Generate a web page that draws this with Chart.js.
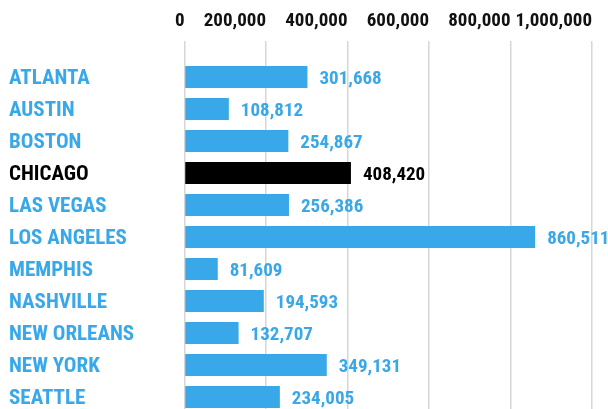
<!DOCTYPE html>
<html>
<head>
<meta charset="utf-8">
<script src="https://cdn.jsdelivr.net/npm/chart.js@4"></script>
<style>
  html, body { margin: 0; padding: 0; background: #fff; overflow: hidden; }
  canvas { display: block; }
</style>
</head>
<body>
<canvas id="myChart" width="608" height="413"></canvas>
<script>
const cidades = ['ATLANTA', 'AUSTIN', 'BOSTON', 'CHICAGO', 'LAS VEGAS', 'LOS ANGELES',
  'MEMPHIS', 'NASHVILLE', 'NEW ORLEANS', 'NEW YORK', 'SEATTLE'];
const valores = [301668, 108812, 254867, 408420, 256386, 860511,
  81609, 194593, 132707, 349131, 234005];
const destaque = 'CHICAGO';
const ticksX = [0, 200000, 400000, 600000, 800000, 1000000];

const AZUL = '#38a8e8';
const PRETO = '#000000';
const FONTE = "'Roboto Condensed', sans-serif";

const corDe = nome => (nome === destaque ? PRETO : AZUL);
const fmt = v => Number(v).toLocaleString('en-US');

// rótulos de valor ao lado de cada barra
const rotulosValor = {
  id: 'rotulosValor',
  afterDatasetsDraw(chart) {
    const { ctx } = chart;
    const meta = chart.getDatasetMeta(0);
    ctx.save();
    ctx.font = `bold 19px ${FONTE}`;
    ctx.textAlign = 'left';
    ctx.textBaseline = 'middle';
    meta.data.forEach((bar, i) => {
      ctx.fillStyle = corDe(cidades[i]);
      ctx.fillText(fmt(valores[i]), bar.x + 12, bar.y + 2);
    });
    ctx.restore();
  }
};

const ctx = document.getElementById('myChart').getContext('2d');
new Chart(ctx, {
  type: 'bar',
  data: {
    labels: cidades,
    datasets: [{
      data: valores,
      backgroundColor: cidades.map(corDe),
      borderWidth: 0,
      categoryPercentage: 1,
      barPercentage: 0.6875
    }]
  },
  options: {
    indexAxis: 'y',
    responsive: false,
    animation: false,
    layout: { padding: { left: 9, right: 16, top: 0, bottom: 0 } },
    plugins: { legend: { display: false }, tooltip: { enabled: false } },
    scales: {
      x: {
        position: 'top',
        min: 0,
        max: 1000000,
        afterBuildTicks: s => { s.ticks = ticksX.map(v => ({ value: v })); },
        afterFit: s => { s.height = 61; s.paddingLeft = 0; s.paddingRight = 0; },
        border: { display: false },
        grid: { color: '#d6d6d6', lineWidth: 1.5, tickLength: 20 },
        ticks: {
          align: 'end',
          maxRotation: 0,
          minRotation: 0,
          autoSkip: false,
          padding: 8,
          color: '#111',
          font: { family: FONTE, size: 19, weight: 'bold' },
          callback: v => fmt(v)
        }
      },
      y: {
        // sem folga extra em cima/embaixo: as categorias ocupam toda a altura
        afterFit: s => { s.width = 175.5; s.paddingTop = 0; s.paddingBottom = 0; },
        border: { display: false },
        grid: { display: false },
        ticks: {
          crossAlign: 'far',
          labelOffset: 2,
          color: c => corDe(cidades[c.index]),
          font: { family: FONTE, size: 21, weight: 'bold' }
        }
      }
    }
  },
  plugins: [rotulosValor]
});
</script>
</body>
</html>
